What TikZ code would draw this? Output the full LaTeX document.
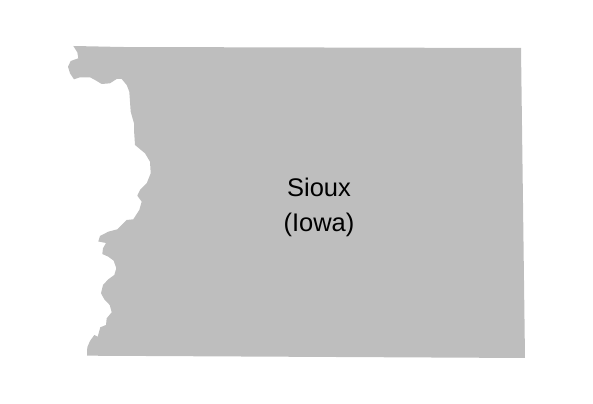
\documentclass[tikz,border=0pt]{standalone}
\usepackage{fontspec}
\setmainfont{Liberation Sans}
\definecolor{countygray}{HTML}{BEBEBE}

\begin{document}
\begin{tikzpicture}[x=0.02cm, y=-0.02cm]

    % 1. Outline of the county, in pixels of the picture (y runs downwards)
    \def\countyoutline{(73.3,46) -- (107.7,46.7) -- (120,47) -- (521,48) -- (525,358) -- (87,355.7)
        -- (87.3,347.3) -- (90,341) -- (94.3,335) -- (97.7,336.7) -- (100.3,327.3) -- (106,325)
        -- (106.7,318.3) -- (111.7,312.3) -- (109.7,305) -- (104.3,299.3) -- (101,293.3) -- (103,285)
        -- (108.3,279.3) -- (114.3,275) -- (116.3,268.3) -- (113.7,260.7) -- (108.3,256.7) -- (102.3,254)
        -- (103,248.3) -- (106,243) -- (98.3,241.5) -- (100,236) -- (108.3,231.7) -- (117.3,229.3)
        -- (126.7,220) -- (133.3,219.3) -- (139.3,210) -- (141.7,201.7) -- (137.3,195.7) -- (140,190)
        -- (146.7,183.3) -- (150.7,173.3) -- (150,161.7) -- (145,153.3) -- (135,145) -- (134,130)
        -- (134,123.3) -- (130.7,111.7) -- (129.3,91.7) -- (126.7,85) -- (121.7,79) -- (116.7,79)
        -- (110,83.3) -- (101.7,84) -- (95,80) -- (90,77.3) -- (80,77.3) -- (74,79.3) -- (70,73.3)
        -- (68,66.7) -- (70.7,61) -- (78.3,58.3) -- (77.3,52.3) -- cycle}

    % 2. The page, with its margins
    \useasboundingbox (0,0) rectangle (593,404);

    \fill[countygray] \countyoutline;

    % 3. Name of the county
    \node[align=center, font=\fontsize{14.5}{19.6}\selectfont] (sioux) at (319,207.5) {Sioux\\(Iowa)};

\end{tikzpicture}
\end{document}
